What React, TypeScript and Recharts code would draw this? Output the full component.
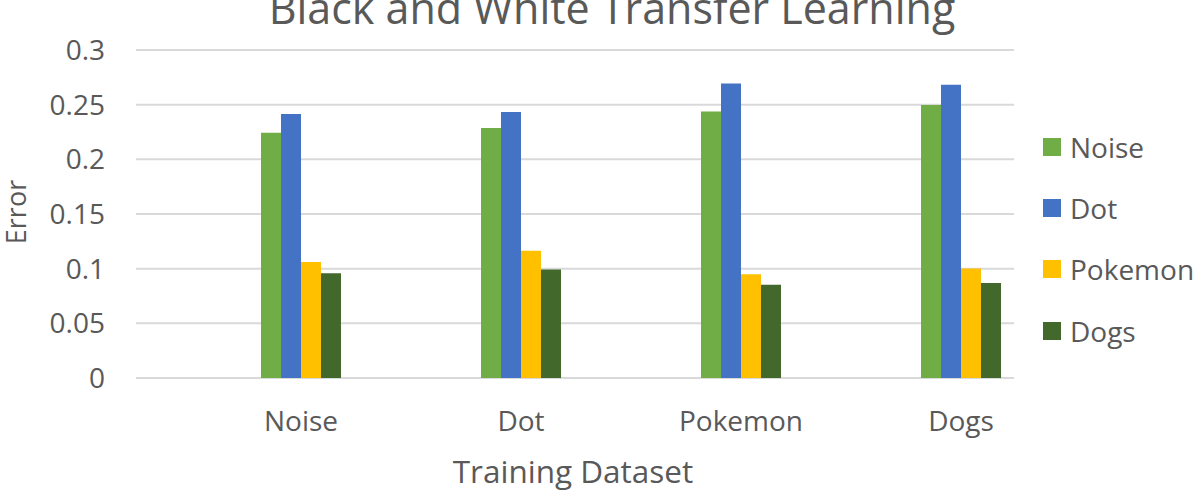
import React from "react";
import { BarChart, Bar, XAxis, YAxis, CartesianGrid } from "recharts";

const categories = ["Noise", "Dot", "Pokemon", "Dogs"];
const noiseValues = [0.2243, 0.2286, 0.2438, 0.2497];
const dotValues = [0.2414, 0.2432, 0.2694, 0.2682];
const pokemonValues = [0.1062, 0.1163, 0.0949, 0.1001];
const dogsValues = [0.0958, 0.0992, 0.0854, 0.087];
const yTicks = [0, 0.05, 0.1, 0.15, 0.2, 0.25, 0.3];

const seriesNames = ["Noise", "Dot", "Pokemon", "Dogs"];
const seriesColors = ["#70ad47", "#4472c4", "#ffc000", "#43682b"];

const data = categories.map((c, i) => ({
  name: c,
  Noise: noiseValues[i],
  Dot: dotValues[i],
  Pokemon: pokemonValues[i],
  Dogs: dogsValues[i],
}));

const FONT = "'Open Sans', 'Noto Sans', sans-serif";
const TEXT = "#595959";

export default function App() {
  return (
    <div
      style={{
        position: "absolute",
        left: 0,
        top: 0,
        width: 1196,
        height: 495,
        background: "#fff",
        overflow: "hidden",
      }}
    >
      <BarChart
        width={1196}
        height={495}
        data={data}
        margin={{ top: 50, right: 182, bottom: 87, left: 0 }}
        barSize={20}
        barGap={0}
      >
        <CartesianGrid vertical={false} stroke="#d9d9d9" strokeWidth={2} />
        <XAxis
          dataKey="name"
          padding={{ left: 55, right: -57 }}
          axisLine={false}
          tickLine={false}
          tickSize={0}
          tickMargin={33}
          interval={0}
          tick={{ fill: TEXT, fontSize: 28, fontFamily: FONT }}
        />
        <YAxis
          width={136}
          domain={[0, 0.3]}
          ticks={yTicks}
          axisLine={false}
          tickLine={false}
          tickSize={0}
          tickMargin={31}
          interval={0}
          tick={{ fill: TEXT, fontSize: 28, fontFamily: FONT }}
        />
        {seriesNames.map((n, i) => (
          <Bar
            key={n}
            dataKey={n}
            fill={seriesColors[i]}
            isAnimationActive={false}
          />
        ))}
      </BarChart>
      <div
        style={{
          position: "absolute",
          left: 1043,
          top: 116,
          width: 160,
          fontFamily: FONT,
        }}
      >
        {seriesNames.map((n, i) => (
          <div
            key={n}
            style={{ display: "flex", alignItems: "center", height: 61.3 }}
          >
            <div
              style={{
                width: 18,
                height: 18,
                background: seriesColors[i],
                marginRight: 9,
                flexShrink: 0,
              }}
            />
            <span style={{ fontSize: 28, color: TEXT, whiteSpace: "nowrap" }}>
              {n}
            </span>
          </div>
        ))}
      </div>
      <svg
        width={1196}
        height={495}
        style={{ position: "absolute", left: 0, top: 0, pointerEvents: "none" }}
      >
        <text
          x={612}
          y={24}
          textAnchor="middle"
          fontFamily={FONT}
          fontSize={43}
          fill={TEXT}
        >
          Black and White Transfer Learning
        </text>
        <text
          x={573}
          y={483}
          textAnchor="middle"
          fontFamily={FONT}
          fontSize={31.5}
          fill={TEXT}
        >
          Training Dataset
        </text>
        <text
          x={0}
          y={0}
          transform="translate(26 212) rotate(-90)"
          textAnchor="middle"
          fontFamily={FONT}
          fontSize={27}
          fill={TEXT}
        >
          Error
        </text>
      </svg>
    </div>
  );
}
